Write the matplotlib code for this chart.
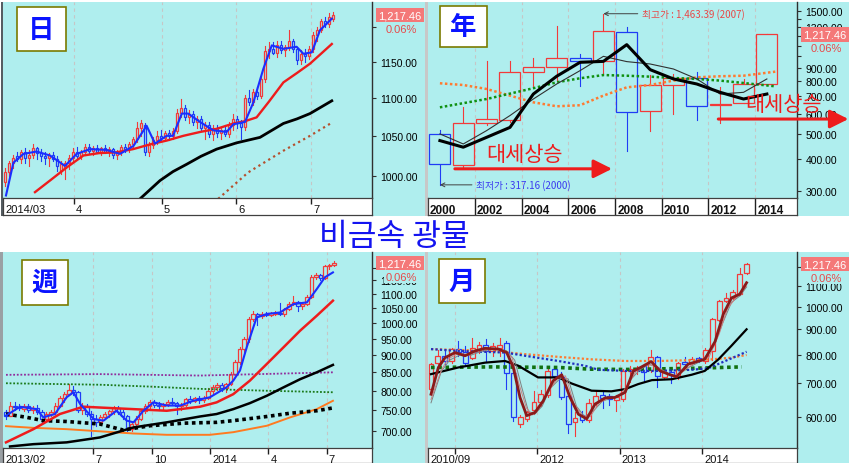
import matplotlib
matplotlib.use('Agg')
import matplotlib.pyplot as plt
import matplotlib.transforms as mtransforms
from matplotlib.patches import Rectangle
from matplotlib.ticker import NullLocator

plt.rcParams['font.family'] = ['Liberation Sans', 'Noto Sans CJK KR', 'DejaVu Sans']
KR = ['Noto Sans CJK KR', 'DejaVu Sans']

W, H = 849, 464
BG = '#afeeee'
UP = '#f23a3a'
DN = '#1f3cf5'
LAST = 1217.46

# ---------------- daily (日) ----------------
d_open = [992, 1004, 1015, 1024, 1020, 1030, 1022, 1026, 1034, 1028,
          1024, 1022, 1026, 1020, 1006, 1010, 1015, 1022, 1030, 1024,
          1030, 1036, 1031, 1034, 1030, 1034, 1030, 1033, 1026, 1030,
          1036, 1033, 1040, 1046, 1060, 1064, 1030, 1038, 1044, 1050,
          1047, 1054, 1050, 1056, 1080, 1086, 1074, 1078, 1068, 1072,
          1060, 1064, 1052, 1060, 1054, 1058, 1052, 1064, 1072, 1066,
          1062, 1100, 1095, 1108, 1102, 1126, 1165, 1168, 1162, 1174,
          1166, 1170, 1180, 1168, 1152, 1160, 1158, 1168, 1188, 1196,
          1208, 1204, 1212]
d_close = [1005, 1015, 1022, 1020, 1030, 1022, 1026, 1034, 1028, 1024,
           1022, 1026, 1020, 1012, 1014, 1015, 1022, 1030, 1024, 1030,
           1036, 1031, 1034, 1030, 1034, 1030, 1033, 1026, 1030, 1036,
           1033, 1040, 1046, 1060, 1066, 1030, 1038, 1044, 1050, 1047,
           1054, 1050, 1056, 1080, 1086, 1074, 1078, 1068, 1072, 1060,
           1064, 1052, 1060, 1054, 1058, 1052, 1064, 1072, 1066, 1062,
           1100, 1095, 1108, 1102, 1126, 1165, 1168, 1162, 1174, 1166,
           1170, 1180, 1168, 1152, 1160, 1158, 1168, 1188, 1196, 1208,
           1204, 1215, 1217.46]
d_high = [1010, 1018, 1025, 1030, 1032, 1034, 1032, 1040, 1036, 1033,
          1030, 1028, 1030, 1024, 1018, 1018, 1026, 1034, 1036, 1032,
          1040, 1040, 1037, 1038, 1036, 1038, 1036, 1035, 1032, 1038,
          1040, 1042, 1048, 1068, 1070, 1066, 1042, 1048, 1056, 1058,
          1056, 1058, 1060, 1085, 1098, 1090, 1084, 1082, 1076, 1076,
          1068, 1068, 1064, 1064, 1062, 1064, 1068, 1078, 1076, 1070,
          1104, 1110, 1112, 1115, 1130, 1172, 1178, 1178, 1180, 1180,
          1174, 1195, 1182, 1170, 1166, 1168, 1172, 1192, 1200, 1212,
          1214, 1220, 1222]
d_low = [988, 1000, 1010, 1018, 1015, 1015, 1012, 1022, 1020, 1018,
         1014, 1012, 1018, 1006, 1002, 996, 1008, 1018, 1020, 1020,
         1026, 1028, 1026, 1028, 1026, 1028, 1024, 1022, 1020, 1026,
         1030, 1030, 1035, 1042, 1050, 1025, 1024, 1034, 1040, 1044,
         1044, 1045, 1046, 1054, 1074, 1070, 1066, 1064, 1060, 1056,
         1046, 1048, 1044, 1048, 1046, 1050, 1048, 1058, 1060, 1046,
         1058, 1090, 1090, 1098, 1100, 1122, 1155, 1160, 1156, 1162,
         1158, 1166, 1164, 1146, 1146, 1150, 1154, 1164, 1180, 1192,
         1200, 1200, 1208]
d_ma5_x = [0.25, 2.1, 4.6, 7.9, 11.25, 15, 17.9, 21.25, 25.4, 28.75, 32.1, 35.4, 37.5,
           40.4, 42, 44.2, 45.8, 48.75, 52.1, 55.4, 57.1, 60, 62.1, 64.6, 66.7, 69.6,
           72.9, 74.6, 76.7, 78.75, 81.7]
d_ma5 = [976, 1016, 1027, 1030, 1025, 1012, 1027, 1033, 1032, 1027, 1037, 1063, 1040,
         1050, 1050, 1079, 1079, 1068, 1057, 1055, 1065, 1068, 1094, 1140, 1173, 1168,
         1171, 1161, 1163, 1195, 1212]
d_ma20_x = [7.5, 11.5, 15.4, 19.6, 23.5, 27.9, 32, 36.25, 40.5, 44.6, 48.8, 52.9, 57.1,
            60, 62.9, 66, 69.6, 73, 76.25, 79, 81.7]
d_ma20 = [980, 995, 1010, 1025, 1028, 1029, 1033, 1039, 1044, 1050, 1055, 1059, 1066,
          1069, 1074, 1095, 1121, 1134, 1147, 1161, 1175]
d_ma60_x = [33.75, 38.75, 42, 45.4, 49, 52.9, 57.9, 63.75, 69.6, 73, 76.25, 81.7]
d_ma60 = [972, 994, 1005, 1014, 1024, 1033, 1041, 1048, 1066, 1072, 1079, 1096]
d_ma120_x = [53.3, 60.8, 69.6, 76.25, 81.7]
d_ma120 = [972, 1004, 1031, 1050, 1067]
d_grid = [17.25, 39.2, 57.75, 76.5]
d_xlabels = ['2014/03', '4', '5', '6', '7']
d_yticks = [1000, 1050, 1100, 1150, 1200]
d_ylabels = ['1000.00', '1050.00', '1100.00', '1150.00', '']

# ---------------- yearly (年) ----------------
y_years = list(range(2000, 2015))
y_open = [500, 380, 551, 566, 867, 912, 988, 956, 1239, 612, 774, 824, 648, 659, 781]
y_close = [382, 551, 571, 867, 912, 982, 956, 1250, 606, 774, 824, 640, 652, 781, 1217.46]
y_high = [516, 635, 962, 962, 982, 1307, 1021, 1463.39, 1296, 846, 854, 873, 758, 817, 1221]
y_low = [317.16, 370, 541, 558, 769, 805, 764, 846, 428, 515, 598, 568, 551, 659, 781]
y_ma_thick = [471, 444, 485, 530, 714, 837, 948, 956, 1110, 888, 817, 781, 725, 683, 714]
y_ma_thin = [500, 457, 515, 589, 683, 781, 880, 1000, 954, 934, 893, 817, 714, 725, 817]
y_green_x = [2000, 2002, 2004, 2005, 2006, 2007, 2008, 2009, 2010, 2011, 2012, 2013, 2014.36]
y_green = [634, 683, 752, 793, 822, 846, 841, 834, 824, 817, 805, 788, 765]
y_orange_x = [2000, 2001, 2002, 2003, 2004, 2005, 2006, 2007, 2008, 2009, 2010, 2011, 2012, 2013, 2014.36]
y_orange = [786, 774, 747, 704, 663, 640, 646, 704, 758, 774, 805, 829, 837, 841, 872]
y_grid = [2001.5, 2003.5, 2005.5, 2007.5, 2009.5, 2011.5, 2013.5]
y_xlabels = ['2000', '2002', '2004', '2006', '2008', '2010', '2012', '2014']
y_yticks = [300, 400, 500, 600, 700, 800, 900, 1000, 1100, 1200, 1300, 1400, 1500]
y_ylabels = ['300.00', '400.00', '500.00', '600.00', '700.00', '800.00', '900.00',
             '', '', '', '1300.00', '', '1500.00']

# ---------------- weekly (週) ----------------
w_open = [745, 737, 760, 758, 753, 760, 750, 757, 746, 730,
          740, 745, 762, 780, 792, 803, 797, 752, 760, 742,
          728, 722, 733, 740, 748, 755, 747, 735, 706, 718,
          730, 748, 762, 770, 764, 760, 765, 772, 768, 760,
          764, 778, 774, 780, 776, 782, 800, 810, 816, 806,
          818, 845, 880, 918, 948, 1012, 1030, 1024, 1030, 1028,
          1030, 1034, 1030, 1048, 1065, 1070, 1058, 1066, 1090, 1165,
          1172, 1158, 1205, 1210]
w_close = [737, 760, 758, 756, 760, 750, 757, 746, 730, 740,
           745, 762, 780, 792, 803, 797, 752, 760, 742, 728,
           722, 733, 740, 748, 755, 747, 735, 706, 718, 730,
           748, 762, 770, 764, 760, 765, 772, 768, 760, 764,
           778, 774, 780, 776, 782, 800, 810, 816, 806, 818,
           845, 880, 918, 948, 1012, 1030, 1024, 1030, 1028, 1034,
           1034, 1030, 1048, 1065, 1070, 1058, 1066, 1090, 1165, 1172,
           1158, 1205, 1212, 1217.46]
w_high = [750, 770, 770, 766, 765, 766, 762, 764, 750, 745,
          752, 768, 785, 798, 818, 812, 800, 768, 765, 748,
          738, 738, 745, 752, 760, 762, 750, 738, 722, 735,
          752, 766, 775, 776, 770, 768, 776, 780, 772, 768,
          782, 786, 784, 785, 786, 806, 815, 822, 820, 822,
          850, 885, 925, 955, 1020, 1040, 1034, 1036, 1036, 1038,
          1040, 1068, 1052, 1070, 1092, 1074, 1070, 1095, 1172, 1178,
          1175, 1210, 1215, 1225]
w_low = [730, 735, 752, 750, 748, 745, 744, 742, 722, 726,
         735, 742, 758, 772, 788, 790, 745, 740, 736, 690,
         712, 715, 728, 734, 742, 742, 728, 700, 700, 712,
         726, 744, 756, 758, 752, 754, 760, 764, 742, 750,
         760, 768, 770, 768, 772, 778, 794, 802, 800, 798,
         814, 840, 875, 910, 940, 1005, 994, 1018, 1024, 1022,
         1026, 1026, 1024, 1044, 1060, 1040, 1048, 1060, 1086, 1155,
         1150, 1155, 1196, 1206]
w_ma5_x = [0, 3.1, 6.8, 8.3, 10.9, 13.5, 15.0, 16.5, 19.5, 21.7, 24.6, 26.9, 28.4, 30.6,
           32.8, 35.8, 38.8, 41.7, 45.4, 49.1, 50.6, 52.1, 53.6, 55.8, 58.1, 61.0, 64.0,
           67.0, 69.2, 71.0, 72.8]
w_ma5 = [737, 759, 753, 733, 741, 783, 796, 766, 729, 725, 749, 725, 721, 749,
         770, 762, 762, 774, 783, 809, 827, 855, 923, 1018, 1030, 1035, 1064,
         1070, 1118, 1162, 1181]
w_ma20_x = [0, 6.1, 12.0, 17.2, 20.9, 28.4, 35.8, 43.2, 46.9, 50.6, 54.3, 58.1, 61.8, 65.5, 69.2, 72.8]
w_ma20 = [675, 705, 741, 759, 757, 753, 749, 759, 770, 791, 827, 874, 923, 975, 1024, 1076]
w_ma60_x = [0.9, 6.1, 13.5, 20.9, 28.4, 35.8, 43.2, 46.9, 50.6, 54.3, 58.1, 61.8, 65.5, 69.2, 72.8]
w_ma60 = [666, 671, 675, 686, 709, 721, 735, 741, 753, 768, 787, 809, 831, 850, 871]
w_dot_x = [0, 4.6, 8.3, 13.5, 20.9, 26.1, 32.1, 39.5, 46.9, 50.6, 58.1, 63.3, 69.2, 72.8]
w_dot = [741, 733, 725, 723, 717, 703, 713, 719, 721, 725, 735, 743, 749, 756]
w_orange_x = [0, 6.1, 13.5, 20.9, 28.4, 35.8, 45.4, 50.6, 58.1, 63.3, 69.2, 72.8]
w_orange = [712, 708, 705, 700, 695, 692, 692, 698, 713, 733, 753, 774]
w_purple_x = [0, 20.9, 43.2, 72.8]
w_purple = [843, 845, 841, 850]
w_green_x = [0, 20.9, 32.1, 43.2, 58.1, 72.8]
w_green = [820, 816, 811, 805, 800, 796]
w_grid = [19.4, 32.45, 45.45, 58.4, 71.4]
w_xlabels = ['2013/02', '7', '10', '2014', '4', '7']
w_yticks = [700, 750, 800, 850, 900, 950, 1000, 1050, 1100, 1150, 1200]
w_ylabels = ['700.00', '750.00', '800.00', '850.00', '900.00', '950.00', '1000.00',
             '1050.00', '1100.00', '1150.00', '']

# ---------------- monthly (月) ----------------
m_open = [682, 770, 795, 777, 823, 810, 788, 823, 835, 814,
          827, 845, 736, 580, 593, 619, 642, 664, 748, 720,
          660, 585, 605, 591, 638, 663, 660, 648, 650, 742,
          744, 760, 745, 790, 722, 740, 720, 775, 770, 786,
          776, 815, 938, 1026, 1042, 1059, 1168]
m_close = [766, 795, 777, 820, 810, 770, 826, 835, 814, 833,
           837, 736, 600, 600, 612, 642, 666, 742, 725, 656,
           580, 597, 591, 640, 660, 655, 650, 656, 743, 750,
           752, 740, 792, 725, 737, 729, 770, 766, 783, 780,
           818, 943, 1026, 1040, 1072, 1165, 1217.46]
m_high = [768, 818, 818, 827, 852, 833, 864, 850, 859, 845,
          864, 852, 766, 605, 617, 677, 680, 756, 756, 740,
          666, 612, 615, 651, 677, 675, 668, 665, 748, 760,
          760, 765, 817, 795, 745, 746, 775, 790, 790, 790,
          825, 950, 1030, 1067, 1080, 1198, 1225]
m_low = [677, 766, 766, 771, 796, 766, 783, 805, 777, 796,
         796, 682, 589, 571, 589, 607, 630, 656, 714, 650,
         556, 549, 585, 585, 630, 626, 635, 617, 645, 705,
         730, 709, 740, 690, 714, 700, 714, 760, 765, 772,
         771, 780, 936, 1020, 1035, 1055, 1165]
m_ma5_x = [0, 1.07, 2.04, 3.5, 4.96, 6.41, 7.87, 9.82, 11.03, 12.0, 12.97, 13.95, 15.16,
           16.36, 17.8, 19.05, 20.27, 21.48, 22.7, 23.9, 25.4, 26.8, 28.3, 29.5, 30.7,
           32.1, 33.4, 34.6, 35.8, 37.5, 39.9, 41.4, 42.6, 43.8, 45.0, 46.0]
m_ma5 = [666, 754, 789, 808, 796, 814, 824, 821, 808, 754, 656, 603, 612,
         646, 709, 729, 656, 607, 594, 636, 655, 656, 672, 742, 756,
         775, 742, 731, 722, 766, 783, 850, 965, 1041, 1059, 1117]
m_thin1_x = [0, 1.5, 2.5, 4, 5.5, 7, 8.5, 10.5, 11.8, 12.8, 13.9, 14.8, 15.8, 17, 18.5,
             19.6, 20.8, 22.0, 23.2, 24.5, 26, 27.5, 28.8, 30, 31.4, 32.7, 34, 35.3,
             36.6, 38.5, 40.5, 42, 43.2, 44.4, 46]
m_thin1 = [650, 745, 785, 805, 800, 815, 822, 818, 790, 700, 625, 605, 625, 670, 720,
           725, 640, 603, 600, 640, 655, 660, 700, 745, 765, 760, 738, 725,
           738, 772, 790, 880, 990, 1040, 1100]
m_thin2_x = [0, 1.5, 2.7, 4.3, 5.8, 7.3, 9, 11, 12.2, 13.2, 14.2, 15.1, 16.2, 17.4, 18.9,
             20, 21.2, 22.4, 23.6, 25, 26.5, 28, 29.2, 30.4, 31.8, 33.1, 34.4, 35.7,
             37.2, 39.5, 41.2, 42.5, 43.8, 45, 46]
m_thin2 = [640, 740, 780, 800, 798, 812, 822, 815, 780, 690, 615, 607, 630, 685, 718,
           715, 630, 600, 615, 645, 656, 665, 715, 745, 765, 755, 735, 724,
           750, 778, 830, 925, 1020, 1050, 1095]
m_ma20_x = [0, 3.98, 7.87, 10.79, 12.73, 15.6, 18.56, 20.5, 23.4, 26.3, 28.3, 30.2, 32.2,
            35.1, 38, 39.9, 41.9, 43.8, 46]
m_ma20 = [731, 754, 771, 777, 760, 720, 720, 700, 677, 675, 682, 698, 711,
          714, 729, 742, 783, 834, 900]
m_blue_x = [0, 3.98, 10.79, 13.7, 18.56, 22.45, 24.4, 28.3, 33.1, 38, 40.4, 42.9, 46]
m_blue = [821, 814, 808, 796, 777, 760, 746, 742, 742, 746, 751, 777, 811]
m_orange_x = [0, 8.84, 13.7, 18.56, 23.4, 28.3, 33.1, 38, 40.9, 43.8, 46]
m_orange = [821, 814, 802, 792, 783, 777, 777, 780, 783, 789, 799]
m_green_x = [0, 8.84, 18.56, 23.4, 28.3, 38, 45.3]
m_green = [754, 756, 754, 748, 747, 751, 756]
m_grid = [3.5, 15.5, 27.5, 39.5]
m_xlabels = ['2010/09', '2012', '2013', '2014']
m_yticks = [600, 700, 800, 900, 1000, 1100, 1200]
m_ylabels = ['600.00', '700.00', '800.00', '900.00', '1000.00', '1100.00', '']


fig = plt.figure(figsize=(W / 100, H / 100), dpi=100)
fig.patch.set_facecolor('white')


def frac(x0, y0, x1, y1):
    return [x0 / W, 1 - y1 / H, (x1 - x0) / W, (y1 - y0) / H]


def fig_box(x0, y0, x1, y1, fc, ec='none', lw=0, z=-5):
    fig.add_artist(Rectangle((x0 / W, 1 - y1 / H), (x1 - x0) / W, (y1 - y0) / H,
                             transform=fig.transFigure, fc=fc, ec=ec, lw=lw, zorder=z))


def make_panel(plot_px, strip_bottom, right_px, xlim, ylim, ticks, labels, grid,
               xlabels, xlabel_pos, full_sep=False, bold=False, label_y=0.33):
    x0, y0, x1, y1 = plot_px
    fig_box(x1, y0, right_px, strip_bottom + 1, BG)
    ax = fig.add_axes(frac(*plot_px))
    ax.set_facecolor(BG)
    ax.set_yscale('log')
    ax.set_xlim(*xlim)
    ax.set_ylim(*ylim)
    ax.set_xticks([])
    ax.yaxis.tick_right()
    ax.set_yticks(ticks)
    ax.set_yticklabels(labels)
    ax.yaxis.set_minor_locator(NullLocator())
    ax.tick_params(axis='y', direction='out', length=3, width=0.8, pad=3,
                   labelsize=7.5, color='#303030')
    for s in ['left', 'top', 'bottom']:
        ax.spines[s].set_visible(False)
    ax.spines['right'].set_color('#303030')
    ax.spines['right'].set_linewidth(1.0)
    for g in grid:
        ax.axvline(g, color='#c6c6c6', lw=0.8, ls=(0, (3, 3)), zorder=1)

    axs = fig.add_axes(frac(x0, y1, x1, strip_bottom))
    axs.set_facecolor('white')
    axs.set_xlim(*xlim)
    axs.set_ylim(0, 1)
    axs.set_xticks([])
    axs.set_yticks([])
    for s in axs.spines.values():
        s.set_color('#404040')
        s.set_linewidth(0.9)
    axs.vlines(grid, 0 if full_sep else 0.62, 1, color='#202020', lw=1.0)
    for lab, pos in zip(xlabels, xlabel_pos):
        axs.annotate(lab, xy=(pos, label_y), xycoords=('data', 'axes fraction'),
                     xytext=(1.5, 0), textcoords='offset points', ha='left', va='center',
                     fontsize=8.5 if bold else 8, fontweight='bold' if bold else 'normal',
                     color='#111111', annotation_clip=False)
    return ax


def candles(ax, xs, o, h, l, c, w):
    for x, oo, hh, ll, cc in zip(xs, o, h, l, c):
        col = UP if cc >= oo else DN
        ax.plot([x, x], [ll, hh], color=col, lw=0.8, zorder=2)
        lo, hi = min(oo, cc), max(oo, cc)
        ax.add_patch(Rectangle((x - w / 2, lo), w, hi - lo, fc=BG, ec=col, lw=0.9, zorder=2.1))


def last_label(ax):
    tr = mtransforms.blended_transform_factory(ax.transAxes, ax.transData)
    ax.annotate('1,217.46', xy=(1, LAST), xycoords=tr, xytext=(4.5, 0),
                textcoords='offset points', ha='left', va='center', fontsize=8, color='white',
                bbox=dict(boxstyle='square,pad=0.2', fc='#f47878', ec='none'),
                annotation_clip=False, zorder=6)
    ax.annotate('0.06%', xy=(1, LAST), xycoords=tr, xytext=(21, -9.8),
                textcoords='offset points', ha='center', va='center', fontsize=8, color='#e84a4a',
                bbox=dict(boxstyle='square,pad=0.1', fc=BG, ec='none'),
                annotation_clip=False, zorder=6)


def tag(x0, y0, x1, y1, ch):
    fig_box(x0, y0, x1, y1, 'white', '#7a7a00', 1.2, 5)
    fig.text((x0 + x1) / 2 / W, 1 - (y0 + y1) / 2 / H, ch, ha='center', va='center',
             fontsize=19, color='#0a14ff', family=KR, fontweight='bold', zorder=6)


# panel borders
fig_box(1, 3, 3, 217, '#555d62')
fig_box(0, 253, 3, 464, '#9aa0a4')
fig_box(425, 3, 428, 217, '#c8c8c8')
fig_box(425, 253, 428, 464, '#c8c8c8')

# ---- daily ----
d_x = list(range(len(d_close)))
ax1 = make_panel((3, 3, 372, 199), 216, 425, (-0.5, 91.75), (973, 1237), d_yticks, d_ylabels,
                 d_grid, d_xlabels, [-0.5] + d_grid)
candles(ax1, d_x, d_open, d_high, d_low, d_close, 0.7)
ax1.plot(d_ma120_x, d_ma120, color='#b4502e', lw=1.6, ls=(0, (1, 1.6)), zorder=3)
ax1.plot(d_ma60_x, d_ma60, color='black', lw=2.0, zorder=3)
ax1.plot(d_ma20_x, d_ma20, color='#ee1c1c', lw=1.7, zorder=3)
ax1.plot(d_ma5_x, d_ma5, color='#1a2eff', lw=1.5, zorder=3)
last_label(ax1)

# ---- yearly ----
ax2 = make_panel((428, 3, 797, 199), 216, 849, (1999.49, 2015.29), (282, 1625), y_yticks,
                 y_ylabels, y_grid, y_xlabels, [1999.49] + y_grid, full_sep=True, bold=True,
                 label_y=0.3)
candles(ax2, y_years, y_open, y_high, y_low, y_close, 0.9)
ax2.plot(y_orange_x, y_orange, color='#ff7a30', lw=1.8, ls=(0, (1, 1)), zorder=3)
ax2.plot(y_green_x, y_green, color='#109010', lw=1.8, ls=(0, (1, 1)), zorder=3)
ax2.plot(y_years, y_ma_thin, color='#303030', lw=0.8, zorder=3)
ax2.plot(y_years, y_ma_thick, color='black', lw=2.2, zorder=3)
last_label(ax2)
ax2.annotate('최고가 : 1,463.39 (2007)', xy=(2007.0, 1463.39), xytext=(2008.65, 1463.39),
             ha='left', va='center', fontsize=7, color='#e84848', family=KR,
             arrowprops=dict(arrowstyle='->', color='#404040', lw=0.7, shrinkA=1, shrinkB=0))
ax2.annotate('최저가 : 317.16 (2000)', xy=(2000.0, 317.16), xytext=(2001.55, 317.16),
             ha='left', va='center', fontsize=7, color='#3a3af0', family=KR,
             arrowprops=dict(arrowstyle='->', color='#404040', lw=0.7, shrinkA=1, shrinkB=0))
ax2.text(2003.64, 418, '대세상승', ha='center', va='center', color='#ee1c1c', fontsize=15,
         family=KR, zorder=6)
ax2.annotate('', xy=(2007.37, 366), xytext=(2000.64, 366),
             arrowprops=dict(arrowstyle='-|>', color='#ee1c1c', lw=2.2, mutation_scale=28,
                             shrinkA=0, shrinkB=0))
ax2.text(2014.7, 653, '대세상승', ha='center', va='center', color='#ee1c1c', fontsize=15,
         family=KR, zorder=6, clip_on=False)
ax2.annotate('', xy=(2017.49, 571), xytext=(2011.92, 571), annotation_clip=False,
             arrowprops=dict(arrowstyle='-|>', color='#ee1c1c', lw=2.2, mutation_scale=28,
                             shrinkA=0, shrinkB=0))

# ---- weekly ----
w_x = list(range(len(w_close)))
ax3 = make_panel((3, 253, 372, 449), 464, 425, (-0.67, 81.5), (662.6, 1263), w_yticks,
                 w_ylabels, w_grid, w_xlabels, [-0.67] + w_grid, label_y=0.27)
candles(ax3, w_x, w_open, w_high, w_low, w_close, 0.75)
ax3.plot(w_purple_x, w_purple, color='#902c9c', lw=1.3, ls=(0, (1, 1)), zorder=3)
ax3.plot(w_green_x, w_green, color='#1a7a1a', lw=1.3, ls=(0, (1, 1)), zorder=3)
ax3.plot(w_orange_x, w_orange, color='#ff7a20', lw=1.4, zorder=3)
ax3.plot(w_dot_x, w_dot, color='black', lw=2.6, ls=(0, (1, 1)), zorder=3)
ax3.plot(w_ma60_x, w_ma60, color='black', lw=1.8, zorder=3)
ax3.plot(w_ma20_x, w_ma20, color='#ee1c1c', lw=1.8, zorder=3)
ax3.plot(w_ma5_x, w_ma5, color='#1a2eff', lw=1.5, zorder=3)
last_label(ax3)

# ---- monthly ----
m_x = list(range(len(m_close)))
ax4 = make_panel((428, 253, 797, 449), 464, 849, (-0.44, 53.35), (519, 1288), m_yticks,
                 m_ylabels, m_grid, m_xlabels, [-0.44, 15.5, 27.5, 39.5], label_y=0.27)
candles(ax4, m_x, m_open, m_high, m_low, m_close, 0.7)
ax4.plot(m_green_x, m_green, color='#107010', lw=2.6, ls=(0, (1, 1)), zorder=3)
ax4.plot(m_orange_x, m_orange, color='#ff7a30', lw=1.6, ls=(0, (1, 1)), zorder=3)
ax4.plot(m_blue_x, m_blue, color='#2030c0', lw=1.6, ls=(0, (1, 1)), zorder=3)
ax4.plot(m_ma20_x, m_ma20, color='black', lw=1.6, zorder=3)
ax4.plot(m_thin2_x, m_thin2, color='#808080', lw=0.7, zorder=3)
ax4.plot(m_thin1_x, m_thin1, color='#d08080', lw=0.7, zorder=3)
ax4.plot(m_ma5_x, m_ma5, color='#8a1a1a', lw=2.0, zorder=3)
last_label(ax4)

# tags and title
tag(17, 8, 66, 52, '日')
tag(440, 7, 487, 48, '年')
tag(22, 261, 68, 306, '週')
tag(439, 260, 485, 304, '月')
fig.text(394 / W, 1 - 237.5 / H, '비금속 광물', ha='center', va='center', fontsize=22.5,
         color='#1414f0', family=KR)

fig.savefig('out.png', dpi=100)
